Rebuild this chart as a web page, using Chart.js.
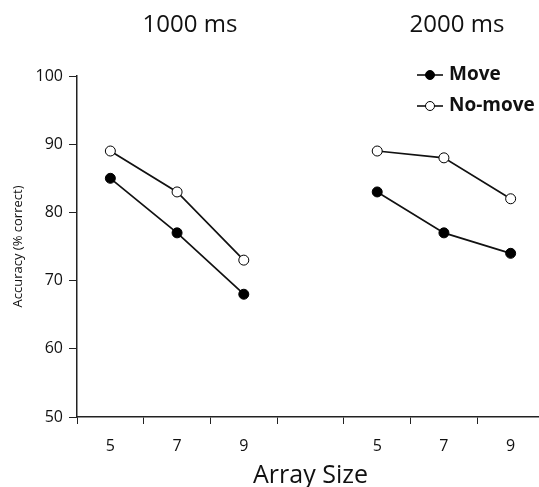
<!DOCTYPE html>
<html lang="en">
<head>
    <meta charset="UTF-8">
    <title>Accuracy by Array Size</title>
    <script src="https://cdn.jsdelivr.net/npm/chart.js"></script>
    <style>
        body {
            margin: 0;
            padding: 0;
            background: #ffffff;
            overflow: hidden;
        }
        #wrap {
            position: relative;
            width: 539px;
            height: 487px;
            overflow: hidden;
        }
    </style>
</head>
<body>
    <div id="wrap">
        <!-- canvas slightly wider than the window so the x axis runs off the right edge -->
        <canvas id="myChart" width="550" height="487"></canvas>
    </div>

    <script>
        // x categories: 1000 ms block, gap, 2000 ms block
        const sizeLabels = ['5', '7', '9', '', '5', '7', '9'];
        const moveValues = [85, 77, 68, null, 83, 77, 74];
        const noMoveValues = [89, 83, 73, null, 89, 88, 82];
        const yTicks = [50, 60, 70, 80, 90, 100];
        const panelTitles = ['1000 ms', '2000 ms'];
        const seriesNames = ['Move', 'No-move'];

        const fontFamily = "'Open Sans', 'Noto Sans', sans-serif";

        // panel titles + legend drawn on the canvas
        const extrasPlugin = {
            id: 'extras',
            afterDraw(chart) {
                const ctx = chart.ctx;
                ctx.save();
                ctx.fillStyle = '#111';
                ctx.font = '24px ' + fontFamily;
                ctx.textAlign = 'center';
                ctx.textBaseline = 'middle';
                ctx.fillText(panelTitles[0], 190, 25);
                ctx.fillText(panelTitles[1], 457, 25);

                // legend
                const rows = [
                    { name: seriesNames[0], y: 75, fill: '#000' },
                    { name: seriesNames[1], y: 106, fill: '#fff' }
                ];
                rows.forEach(function (r) {
                    ctx.strokeStyle = '#000';
                    ctx.lineWidth = 1.5;
                    ctx.beginPath();
                    ctx.moveTo(417, r.y);
                    ctx.lineTo(443, r.y);
                    ctx.stroke();
                    ctx.beginPath();
                    ctx.arc(430, r.y, 4.5, 0, Math.PI * 2);
                    ctx.fillStyle = r.fill;
                    ctx.fill();
                    ctx.lineWidth = 1;
                    ctx.stroke();
                    ctx.fillStyle = '#111';
                    ctx.font = 'bold 19px ' + fontFamily;
                    ctx.textAlign = 'left';
                    ctx.fillText(r.name, 449, r.y);
                });
                ctx.restore();
            }
        };

        const ctx = document.getElementById('myChart').getContext('2d');
        const myChart = new Chart(ctx, {
            type: 'line',
            data: {
                labels: sizeLabels,
                datasets: [{
                    label: seriesNames[0],
                    data: moveValues,
                    borderColor: '#111',
                    borderWidth: 1.7,
                    backgroundColor: '#000',
                    pointBackgroundColor: '#000',
                    pointBorderColor: '#000',
                    pointRadius: 5,
                    pointBorderWidth: 1,
                    spanGaps: false,
                    tension: 0
                },
                {
                    label: seriesNames[1],
                    data: noMoveValues,
                    borderColor: '#111',
                    borderWidth: 1.7,
                    backgroundColor: '#fff',
                    pointBackgroundColor: '#fff',
                    pointBorderColor: '#000',
                    pointRadius: 5,
                    pointBorderWidth: 1,
                    spanGaps: false,
                    tension: 0
                }]
            },
            options: {
                responsive: false,
                animation: false,
                layout: {
                    padding: { top: 76, right: 0, left: 0, bottom: 0 }
                },
                plugins: {
                    legend: { display: false },
                    tooltip: { enabled: false }
                },
                scales: {
                    x: {
                        offset: true,
                        grid: {
                            offset: true,
                            drawOnChartArea: false,
                            drawTicks: true,
                            tickLength: 7,
                            color: '#222'
                        },
                        border: { display: true, color: '#222', width: 1.5 },
                        ticks: {
                            color: '#111',
                            padding: 13,
                            font: { family: fontFamily, size: 16 }
                        },
                        title: {
                            display: true,
                            text: 'Array Size',
                            color: '#111',
                            font: { family: fontFamily, size: 25, lineHeight: 1 },
                            padding: { top: 0, bottom: -1 }
                        },
                        afterFit(scale) { scale.height = 70; }
                    },
                    y: {
                        min: 50,
                        max: 100,
                        afterBuildTicks(scale) {
                            scale.ticks = yTicks.map(v => ({ value: v }));
                        },
                        grid: {
                            drawOnChartArea: false,
                            drawTicks: true,
                            tickLength: 8,
                            color: '#222'
                        },
                        border: { display: true, color: '#222', width: 1.5 },
                        ticks: {
                            color: '#111',
                            padding: 6,
                            font: { family: fontFamily, size: 16 }
                        },
                        title: {
                            display: true,
                            text: 'Accuracy (% correct)',
                            color: '#111',
                            font: { family: fontFamily, size: 13 },
                            padding: { top: 10, bottom: 4 }
                        },
                        afterFit(scale) { scale.width = 77; }
                    }
                }
            },
            plugins: [extrasPlugin]
        });
    </script>
</body>
</html>
